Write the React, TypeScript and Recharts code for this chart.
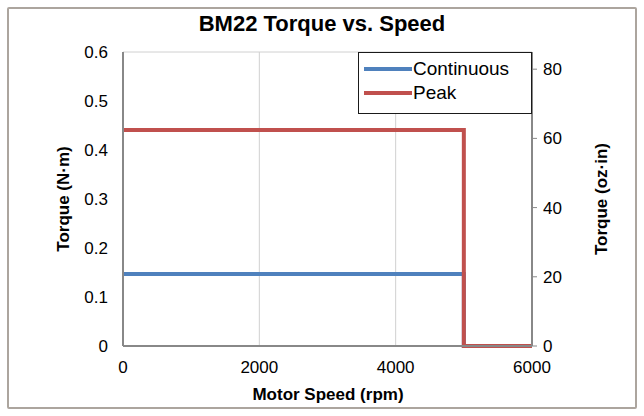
import { CartesianGrid, Legend, Line, LineChart, XAxis, YAxis } from "recharts";

// BM22 curva torque x velocidade — eixo direito é a mesma escala em oz·in
const NM_TO_OZIN = 141.612;

const speed = [0, 5000, 5000, 6000];
const continuousNm = [0.147, 0.147, 0, 0];
const peakNm = [0.441, 0.441, 0, 0];

const xTicks = [0, 2000, 4000, 6000];
const leftTicks = [0, 0.1, 0.2, 0.3, 0.4, 0.5, 0.6];
const rightTicks = [0, 20, 40, 60, 80];

const series = [
  { key: "cont", label: "Continuous", cor: "#4f81bd", valores: continuousNm },
  { key: "peak", label: "Peak", cor: "#c0504d", valores: peakNm },
];

const FONT = "'Liberation Sans', Arial, sans-serif";
const TICK = { fontSize: 17, fill: "#000", fontFamily: FONT };
const TITULO_EIXO = 17;

const toRows = (vals: number[]) => speed.map((s, i) => ({ speed: s, torque: vals[i] }));

function LegendBox() {
  return (
    <div
      style={{
        width: "100%",
        height: "100%",
        boxSizing: "border-box",
        border: "1.5px solid #1a1a1a",
        background: "#fff",
        fontFamily: FONT,
        fontSize: 19,
        color: "#000",
        paddingTop: 4,
      }}
    >
      {series.map((s) => (
        <div key={s.key} style={{ display: "flex", alignItems: "center", height: 24, paddingLeft: 5 }}>
          <span style={{ display: "inline-block", width: 48, height: 4, background: s.cor, marginRight: 1 }} />
          <span>{s.label}</span>
        </div>
      ))}
    </div>
  );
}

export default function App() {
  return (
    <div style={{ position: "absolute", left: 0, top: 0, width: 644, height: 416, background: "#fff", fontFamily: FONT }}>
      <div
        style={{
          position: "absolute",
          left: 7,
          top: 7,
          width: 630,
          height: 402,
          boxSizing: "border-box",
          border: "2px solid #aca59e",
          borderRadius: 2,
        }}
      />
      <div
        style={{
          position: "absolute",
          left: 0,
          top: 11,
          width: 644,
          textAlign: "center",
          fontSize: 22,
          fontWeight: "bold",
          color: "#000",
        }}
      >
        BM22 Torque vs. Speed
      </div>
      <LineChart width={644} height={416} margin={{ top: 52, right: 52, bottom: 0, left: 63 }} style={{ position: "absolute", left: 0, top: 0 }}>
        <CartesianGrid stroke="#d0d0d0" strokeWidth={1} />
        <XAxis
          type="number"
          dataKey="speed"
          domain={[0, 6000]}
          ticks={xTicks}
          allowDuplicatedCategory={false}
          tick={TICK}
          tickLine={false}
          tickSize={0}
          tickMargin={15}
          axisLine={{ stroke: "#888", strokeWidth: 2 }}
          height={70}
          label={{
            content: () => (
              <text x={328} y={400} textAnchor="middle" fontSize={TITULO_EIXO} fontWeight="bold" fontFamily={FONT} fill="#000">
                Motor Speed (rpm)
              </text>
            ),
          }}
        />
        <YAxis
          yAxisId="left"
          domain={[0, 0.6]}
          ticks={leftTicks}
          tick={TICK}
          tickLine={false}
          tickSize={0}
          tickMargin={15}
          axisLine={{ stroke: "#888", strokeWidth: 2 }}
          width={60}
          label={{
            content: () => (
              <text x={69} y={199} transform="rotate(-90 69 199)" textAnchor="middle" fontSize={TITULO_EIXO} fontWeight="bold" fontFamily={FONT} fill="#000">
                Torque (N·m)
              </text>
            ),
          }}
        />
        <YAxis
          yAxisId="right"
          orientation="right"
          domain={[0, 0.6 * NM_TO_OZIN]}
          ticks={rightTicks}
          allowDataOverflow
          tick={TICK}
          tickLine={{ stroke: "#888", strokeWidth: 1 }}
          tickSize={5}
          tickMargin={6}
          axisLine={{ stroke: "#888", strokeWidth: 2 }}
          width={60}
          label={{
            content: () => (
              <text x={607} y={199} transform="rotate(-90 607 199)" textAnchor="middle" fontSize={TITULO_EIXO} fontWeight="bold" fontFamily={FONT} fill="#000">
                Torque (oz·in)
              </text>
            ),
          }}
        />
        <Legend
          layout="vertical"
          align="center"
          verticalAlign="middle"
          wrapperStyle={{ left: 358, top: 52, width: 174, height: 62 }}
          content={() => <LegendBox />}
        />
        <Line
          yAxisId="right"
          data={toRows(peakNm.map((v) => v * NM_TO_OZIN))}
          dataKey="torque"
          stroke="none"
          dot={false}
          activeDot={false}
          legendType="none"
          isAnimationActive={false}
        />
        {series.map((s) => (
          <Line
            key={s.key}
            yAxisId="left"
            data={toRows(s.valores)}
            dataKey="torque"
            name={s.label}
            type="linear"
            stroke={s.cor}
            strokeWidth={4}
            dot={false}
            activeDot={false}
            isAnimationActive={false}
          />
        ))}
      </LineChart>
    </div>
  );
}
